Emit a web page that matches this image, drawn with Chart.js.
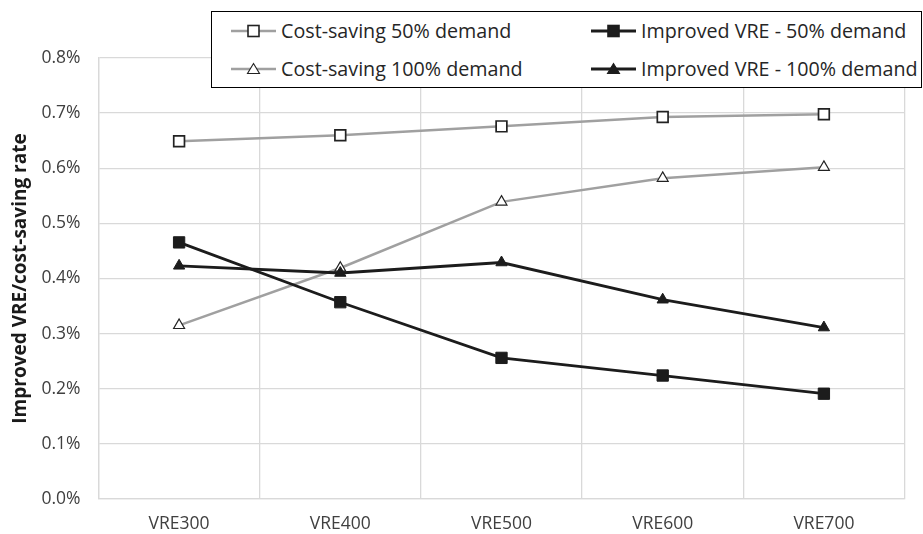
<!DOCTYPE html>
<html>
<head>
<meta charset="utf-8">
<script src="https://cdn.jsdelivr.net/npm/chart.js@4.4.1/dist/chart.umd.min.js"></script>
<style>
  html, body { margin: 0; padding: 0; background: #fff; }
  #wrap { position: relative; width: 923px; height: 534px; }
  #legend {
    position: absolute; left: 211px; top: 11px; width: 711px; height: 77px;
    border: 1.5px solid #000; background: #fff; box-sizing: border-box;
    font-family: "Open Sans", sans-serif; font-size: 19.7px; color: #262626;
  }
  .item { position: absolute; display: flex; align-items: center; white-space: nowrap; }
  .item svg { margin-right: 5px; }
</style>
</head>
<body>
<div id="wrap">
  <canvas id="c" width="923" height="534"></canvas>
  <div id="legend"></div>
</div>
<script>
const categories = ["VRE300", "VRE400", "VRE500", "VRE600", "VRE700"];
const costSaving50 = [0.649, 0.660, 0.676, 0.693, 0.698];
const costSaving100 = [0.315, 0.419, 0.539, 0.582, 0.602];
const improved50 = [0.4655, 0.357, 0.256, 0.224, 0.191];
const improved100 = [0.423, 0.410, 0.429, 0.3615, 0.311];
const seriesNames = ["Cost-saving 50% demand", "Improved VRE - 50% demand", "Cost-saving 100% demand", "Improved VRE - 100% demand"];
const yTicks = [0, 0.1, 0.2, 0.3, 0.4, 0.5, 0.6, 0.7, 0.8];

const GRAY = "#a0a0a0";
const BLACK = "#1c1c1c";

const datasets = [
  { label: seriesNames[0], data: costSaving50, borderColor: GRAY, borderWidth: 2.5,
    pointStyle: "rect", pointRadius: 7.6, pointBackgroundColor: "#fff", pointBorderColor: "#222", pointBorderWidth: 1.7, order: 4 },
  { label: seriesNames[2], data: costSaving100, borderColor: GRAY, borderWidth: 2.5,
    pointStyle: "triangle", pointRadius: 6.3, pointBackgroundColor: "#fff", pointBorderColor: "#222", pointBorderWidth: 1.2, order: 3 },
  { label: seriesNames[1], data: improved50, borderColor: BLACK, borderWidth: 2.8,
    pointStyle: "rect", pointRadius: 8, pointBackgroundColor: BLACK, pointBorderColor: BLACK, pointBorderWidth: 1, order: 2 },
  { label: seriesNames[3], data: improved100, borderColor: BLACK, borderWidth: 2.8,
    pointStyle: "triangle", pointRadius: 6.5, pointBackgroundColor: BLACK, pointBorderColor: BLACK, pointBorderWidth: 1, order: 1 }
];
datasets.forEach(d => { d.tension = 0; d.fill = false; d.pointHoverRadius = d.pointRadius; });

const FONT = "'Open Sans', sans-serif";

new Chart(document.getElementById("c"), {
  type: "line",
  data: { labels: categories, datasets },
  options: {
    responsive: false,
    animation: false,
    layout: { padding: { top: 58, right: 18.5, left: 0, bottom: 0 } },
    plugins: { legend: { display: false }, tooltip: { enabled: false } },
    scales: {
      x: {
        offset: true,
        grid: { offset: true, color: "#d9d9d9", lineWidth: 1.3, drawTicks: false },
        border: { color: "#d9d9d9", width: 1.3 },
        ticks: { color: "#404040", font: { family: FONT, size: 17.5 }, padding: 15 },
        afterFit: s => { s.height = 35; }
      },
      y: {
        min: 0, max: 0.8,
        afterBuildTicks: s => { s.ticks = yTicks.map(v => ({ value: v })); },
        grid: { color: "#d9d9d9", lineWidth: 1.3, drawTicks: false },
        border: { color: "#d9d9d9", width: 1.3 },
        ticks: { color: "#404040", font: { family: FONT, size: 17.5 }, padding: 18,
                 callback: v => v.toFixed(1) + "%" },
        title: { display: true, text: "Improved VRE/cost-saving rate", color: "#1a1a1a",
                 font: { family: FONT, size: 19, weight: "bold" }, padding: { top: 9, bottom: 0 } },
        afterFit: s => { s.width = 98.5; }
      }
    }
  }
});

// HTML legend built from the datasets
function markerSvg(ds) {
  const lineC = ds.borderColor;
  let m = "";
  if (ds.pointStyle === "rect") {
    m = `<rect x="17" y="5.5" width="11" height="11" fill="${ds.pointBackgroundColor}" stroke="${ds.pointBorderColor}" stroke-width="1.6"/>`;
  } else {
    m = `<polygon points="22.5,5.5 28.5,15.5 16.5,15.5" fill="${ds.pointBackgroundColor}" stroke="${ds.pointBorderColor}" stroke-width="1.1"/>`;
  }
  return `<svg width="45" height="22"><line x1="0" y1="11" x2="45" y2="11" stroke="${lineC}" stroke-width="${ds.borderWidth}"/>${m}</svg>`;
}
const legendPos = [
  { name: seriesNames[0], left: 19, top: 5 },
  { name: seriesNames[1], left: 379, top: 5 },
  { name: seriesNames[2], left: 19, top: 43 },
  { name: seriesNames[3], left: 379, top: 43 }
];
const lg = document.getElementById("legend");
legendPos.forEach(p => {
  const ds = datasets.find(d => d.label === p.name);
  const div = document.createElement("div");
  div.className = "item";
  div.style.left = p.left + "px";
  div.style.top = p.top + "px";
  div.innerHTML = markerSvg(ds) + `<span>${ds.label}</span>`;
  lg.appendChild(div);
});
</script>
</body>
</html>
